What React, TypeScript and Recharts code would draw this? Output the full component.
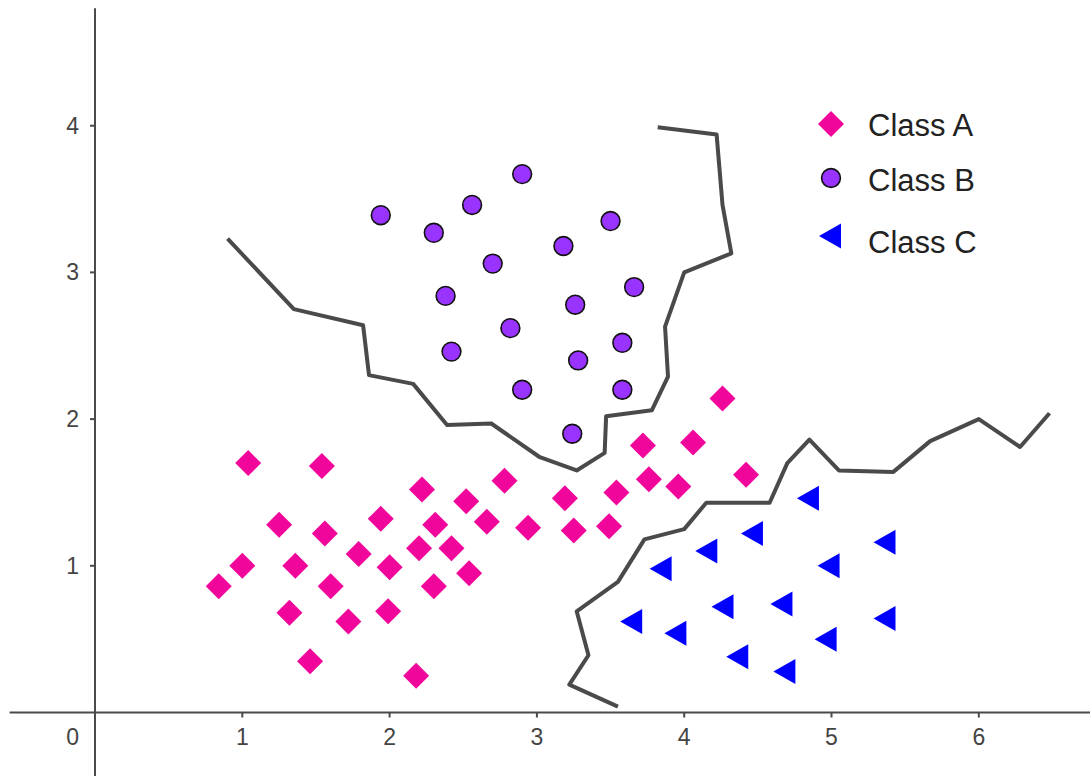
import React from 'react';
import {
  ScatterChart,
  Scatter,
  XAxis,
  YAxis,
  ReferenceLine,
  ReferenceDot,
  Legend,
} from 'recharts';

// Sample points per class
const classA = [
  { x: 0.84, y: 0.86 }, { x: 1.0, y: 1.0 }, { x: 1.04, y: 1.7 }, { x: 1.25, y: 1.28 },
  { x: 1.36, y: 1.0 }, { x: 1.32, y: 0.68 }, { x: 1.46, y: 0.35 }, { x: 1.54, y: 1.68 },
  { x: 1.56, y: 1.22 }, { x: 1.6, y: 0.86 }, { x: 1.72, y: 0.62 }, { x: 1.79, y: 1.08 },
  { x: 1.94, y: 1.32 }, { x: 2.0, y: 0.99 }, { x: 1.99, y: 0.69 }, { x: 2.18, y: 0.25 },
  { x: 2.22, y: 1.52 }, { x: 2.2, y: 1.12 }, { x: 2.31, y: 1.28 }, { x: 2.3, y: 0.86 },
  { x: 2.42, y: 1.12 }, { x: 2.52, y: 1.44 }, { x: 2.54, y: 0.95 }, { x: 2.66, y: 1.3 },
  { x: 2.78, y: 1.58 }, { x: 2.94, y: 1.26 }, { x: 3.19, y: 1.46 }, { x: 3.25, y: 1.24 },
  { x: 3.49, y: 1.27 }, { x: 3.54, y: 1.5 }, { x: 3.72, y: 1.82 }, { x: 3.76, y: 1.59 },
  { x: 3.96, y: 1.54 }, { x: 4.06, y: 1.84 }, { x: 4.26, y: 2.14 }, { x: 4.42, y: 1.62 },
];

const classB = [
  { x: 1.94, y: 3.39 }, { x: 2.3, y: 3.27 }, { x: 2.38, y: 2.84 }, { x: 2.42, y: 2.46 },
  { x: 2.56, y: 3.46 }, { x: 2.7, y: 3.06 }, { x: 2.82, y: 2.62 }, { x: 2.9, y: 3.67 },
  { x: 2.9, y: 2.2 }, { x: 3.18, y: 3.18 }, { x: 3.26, y: 2.78 }, { x: 3.28, y: 2.4 },
  { x: 3.24, y: 1.9 }, { x: 3.5, y: 3.35 }, { x: 3.58, y: 2.52 }, { x: 3.58, y: 2.2 },
  { x: 3.66, y: 2.9 },
];

const classC = [
  { x: 4.84, y: 1.46 }, { x: 4.46, y: 1.22 }, { x: 4.15, y: 1.1 }, { x: 5.36, y: 1.16 },
  { x: 3.84, y: 0.98 }, { x: 4.98, y: 1.0 }, { x: 4.26, y: 0.72 }, { x: 4.66, y: 0.74 },
  { x: 3.64, y: 0.62 }, { x: 5.36, y: 0.64 }, { x: 3.94, y: 0.54 }, { x: 4.96, y: 0.5 },
  { x: 4.36, y: 0.38 }, { x: 4.68, y: 0.28 },
];

// Decision boundaries
const boundaryAB = [
  { x: 0.9, y: 3.23 }, { x: 1.35, y: 2.75 }, { x: 1.82, y: 2.64 }, { x: 1.86, y: 2.3 },
  { x: 2.16, y: 2.24 }, { x: 2.39, y: 1.96 }, { x: 2.69, y: 1.97 }, { x: 3.02, y: 1.74 },
  { x: 3.27, y: 1.65 }, { x: 3.46, y: 1.77 }, { x: 3.47, y: 2.02 }, { x: 3.78, y: 2.06 },
  { x: 3.89, y: 2.29 }, { x: 3.87, y: 2.63 }, { x: 4.0, y: 3.0 }, { x: 4.32, y: 3.13 },
  { x: 4.26, y: 3.46 }, { x: 4.22, y: 3.94 }, { x: 3.82, y: 3.99 },
];

const boundaryAC = [
  { x: 3.55, y: 0.04 }, { x: 3.22, y: 0.19 }, { x: 3.35, y: 0.39 }, { x: 3.27, y: 0.69 },
  { x: 3.55, y: 0.89 }, { x: 3.73, y: 1.18 }, { x: 4.0, y: 1.25 }, { x: 4.15, y: 1.43 },
  { x: 4.58, y: 1.43 }, { x: 4.7, y: 1.7 }, { x: 4.85, y: 1.86 }, { x: 5.05, y: 1.65 },
  { x: 5.42, y: 1.64 }, { x: 5.67, y: 1.85 }, { x: 6.0, y: 2.0 }, { x: 6.28, y: 1.81 },
  { x: 6.48, y: 2.04 },
];

const xTicks = [1, 2, 3, 4, 5, 6];
const yTicks = [1, 2, 3, 4];
const classNames = ['Class A', 'Class B', 'Class C'];

const PINK = '#f0069b';
const PURPLE = '#9933ff';
const BLUE = '#0000ff';
const AXIS = '#4a4a4a';
const FONT = '"Liberation Sans", Arial, sans-serif';

const Diamond = ({ cx, cy }: any) => (
  <polygon points={`${cx},${cy - 13} ${cx + 13},${cy} ${cx},${cy + 13} ${cx - 13},${cy}`} fill={PINK} />
);

const Dot = ({ cx, cy }: any) => (
  <circle cx={cx} cy={cy} r={9.4} fill={PURPLE} stroke="#111" strokeWidth={1.6} />
);

const LeftTriangle = ({ cx, cy }: any) => (
  <polygon points={`${cx - 11},${cy} ${cx + 11},${cy - 12.5} ${cx + 11},${cy + 12.5}`} fill={BLUE} />
);

const NoMark = () => <g />;

const LegendBox = () => {
  const rows = [
    { name: classNames[0], ty: 25.5, mark: <Diamond cx={31} cy={24} /> },
    { name: classNames[1], ty: 80, mark: <Dot cx={31} cy={78} /> },
    { name: classNames[2], ty: 142.5, mark: <LeftTriangle cx={30} cy={136} /> },
  ];
  return (
    <svg width={240} height={170} style={{ overflow: 'visible' }}>
      {rows.map((r) => (
        <g key={r.name}>
          {r.mark}
          <text x={68} y={r.ty} dy="0.35em" fontSize={31} fill="#222" fontFamily={FONT}>
            {r.name}
          </text>
        </g>
      ))}
    </svg>
  );
};

export default function App() {
  return (
    <div style={{ position: 'absolute', left: 0, top: 0, width: 1092, height: 776, background: '#fff' }}>
      <ScatterChart width={1092} height={776} margin={{ top: 0, right: 0, bottom: 0, left: 0 }}>
        <XAxis type="number" dataKey="x" domain={[-0.645, 6.7685]} allowDataOverflow hide />
        <YAxis type="number" dataKey="y" domain={[-0.433, 4.857]} allowDataOverflow hide />

        {/* axes crossing at the origin */}
        <ReferenceLine segment={[{ x: 0, y: 4.8 }, { x: 0, y: -0.433 }]} stroke={AXIS} strokeWidth={2} />
        <ReferenceLine segment={[{ x: -0.58, y: 0 }, { x: 6.755, y: 0 }]} stroke={AXIS} strokeWidth={2} />

        {xTicks.map((t) => (
          <ReferenceDot
            key={`xt${t}`}
            x={t}
            y={0}
            r={0}
            shape={(p: any) => (
              <g>
                <line x1={p.cx} y1={p.cy} x2={p.cx} y2={p.cy + 5} stroke={AXIS} strokeWidth={2} />
                <text x={p.cx} y={p.cy + 33} textAnchor="middle" fontSize={23} fill="#444" fontFamily={FONT}>
                  {t}
                </text>
              </g>
            )}
          />
        ))}
        {yTicks.map((t) => (
          <ReferenceDot
            key={`yt${t}`}
            x={0}
            y={t}
            r={0}
            shape={(p: any) => (
              <g>
                <line x1={p.cx - 5} y1={p.cy} x2={p.cx} y2={p.cy} stroke={AXIS} strokeWidth={2} />
                <text x={p.cx - 16} y={p.cy + 8} textAnchor="end" fontSize={23} fill="#444" fontFamily={FONT}>
                  {t}
                </text>
              </g>
            )}
          />
        ))}
        <ReferenceDot
          x={0}
          y={0}
          r={0}
          shape={(p: any) => (
            <text x={p.cx - 16} y={p.cy + 33} textAnchor="end" fontSize={23} fill="#444" fontFamily={FONT}>
              0
            </text>
          )}
        />

        <Scatter
          name="boundary-ab"
          data={boundaryAB}
          line={{ stroke: '#4a4a4a', strokeWidth: 4, strokeLinejoin: 'round' }}
          shape={NoMark}
          legendType="none"
          isAnimationActive={false}
        />
        <Scatter
          name="boundary-ac"
          data={boundaryAC}
          line={{ stroke: '#4a4a4a', strokeWidth: 4, strokeLinejoin: 'round' }}
          shape={NoMark}
          legendType="none"
          isAnimationActive={false}
        />

        <Scatter name={classNames[0]} data={classA} shape={Diamond} isAnimationActive={false} />
        <Scatter name={classNames[1]} data={classB} shape={Dot} isAnimationActive={false} />
        <Scatter name={classNames[2]} data={classC} shape={LeftTriangle} isAnimationActive={false} />

        <Legend
          layout="vertical"
          align="center"
          verticalAlign="middle"
          content={<LegendBox />}
          wrapperStyle={{ left: 800, top: 100, width: 240, height: 170 }}
        />
      </ScatterChart>
    </div>
  );
}
